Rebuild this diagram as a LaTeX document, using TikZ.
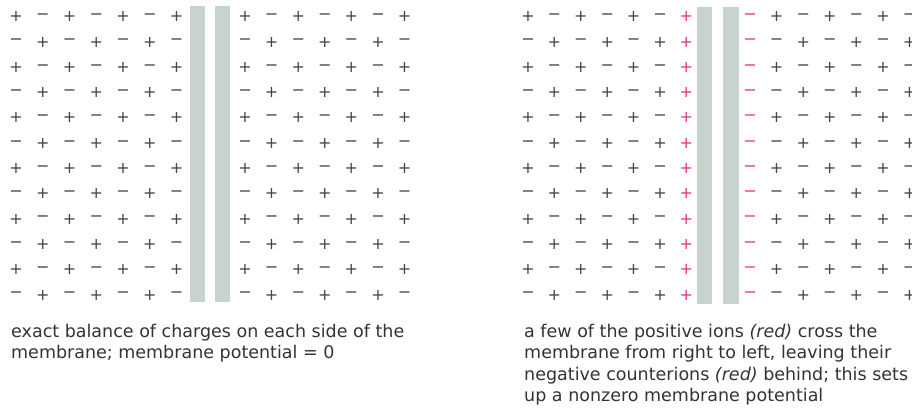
\documentclass[tikz,border=0pt]{standalone}
\usepackage{fontspec}
\setmainfont{DejaVu Sans}
\usetikzlibrary{positioning}
\definecolor{ion}{HTML}{444444}
\definecolor{ionred}{HTML}{E6318C}
\definecolor{membgray}{HTML}{C9D3CE}
\definecolor{captext}{HTML}{333333}
% sign of an ion from the parity of row + column
\newcommand{\chg}[1]{\ifodd#1 −\else +\fi}
\tikzset{
	ionsign/.style={inner sep=0pt, text=ion, font=\fontsize{16}{16}\selectfont},
	redsign/.style={ionsign, text=ionred},
	membrane/.style={fill=membgray, draw=none},
	note/.style={anchor=base west, align=left, inner sep=0pt, text=captext,
		font=\fontsize{17.5}{21.4}\selectfont},
}
\begin{document}
\begin{tikzpicture}[x=1pt, y=-1pt]
	\useasboundingbox (0,0) rectangle (912,410);
	
	% balanced membrane
	\fill[membrane] (190,6) rectangle (205,302);
	\fill[membrane] (215,6) rectangle (230,302);
	\foreach \row in {0,...,11}{
		\foreach \col in {0,...,6}{
			\node[ionsign] (a-\row-\col) at ({16+26.75*\col},{16.7+25.3*\row}) {\chg{\numexpr\row+\col\relax}};
			\node[ionsign] (b-\row-\col) at ({245+26.6*\col},{16.7+25.3*\row}) {\chg{\numexpr\row+\col\relax}};
		}
	}
	
	% membrane with crossed ions
	\fill[membrane] (697,7) rectangle (712,304);
	\fill[membrane] (723,7) rectangle (739,304);
	\foreach \row in {0,...,11}{
		\foreach \col in {0,...,5}{
			\node[ionsign] (c-\row-\col) at ({528+26.4*\col},{16.7+25.3*\row}) {\chg{\numexpr\row+\col\relax}};
			\node[ionsign] (d-\row-\col) at ({776.6+26.6*\col},{16.7+25.3*\row}) {\chg{\numexpr\row+\col\relax}};
		}
		\node[redsign] (c-\row-6) at (686.4,{16.7+25.3*\row}) {+};
		\node[redsign] (d-\row-r) at (750,{16.7+25.3*\row}) {−};
	}
	
	% captions, placed by the baseline of their last line
	\node[note] (noteL) at (11,358.7) {exact balance of charges on each side of the\\membrane; membrane potential = 0};
	\node[note] (noteR) at (524,401.5) {a few of the positive ions \textit{(red)} cross the\\membrane from right to left, leaving their\\negative counterions \textit{(red)} behind; this sets\\up a nonzero membrane potential};
\end{tikzpicture}
\end{document}
